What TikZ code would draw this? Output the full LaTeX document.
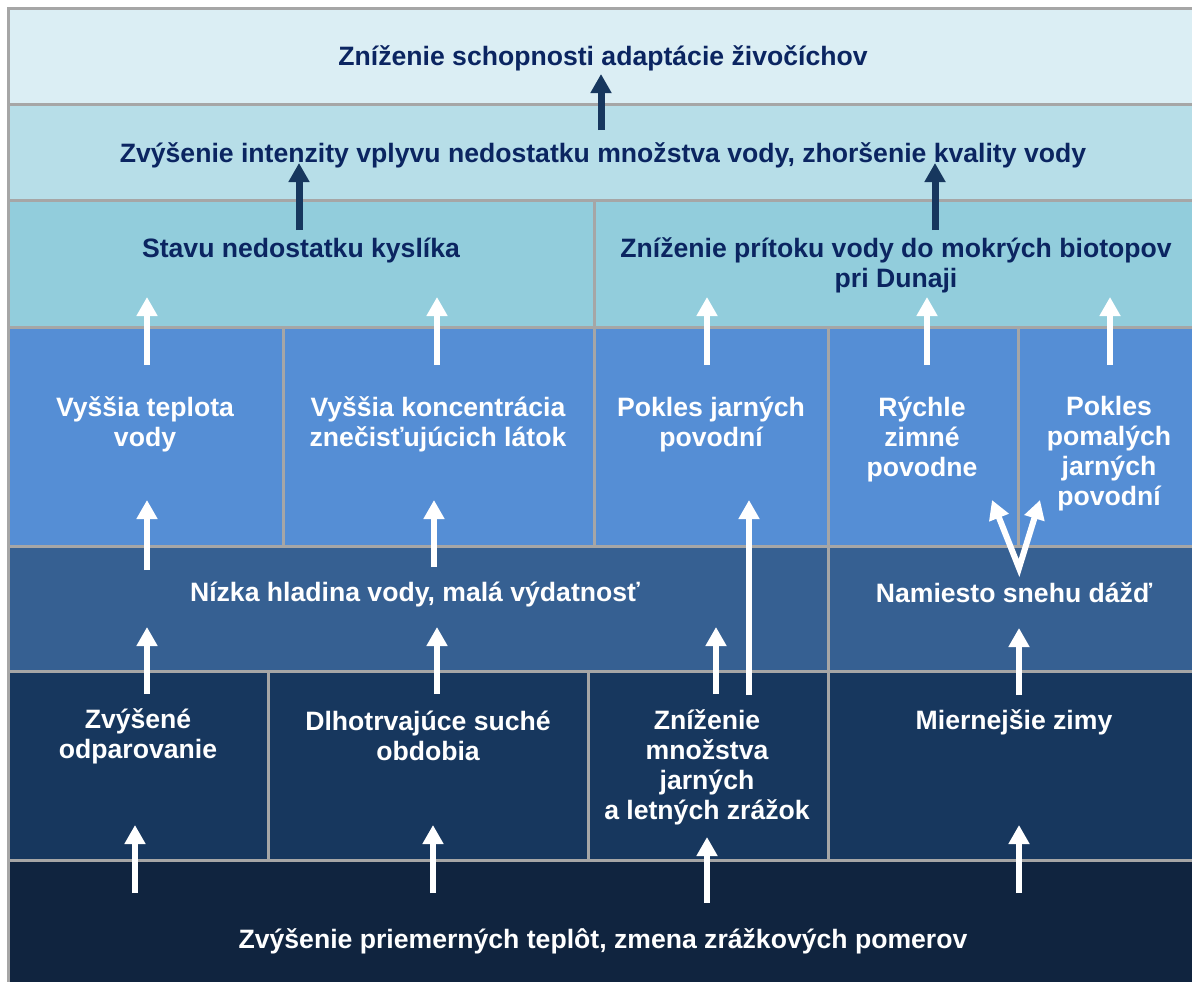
\documentclass[tikz,border=0pt]{standalone}
\usepackage{fontspec}
\setmainfont{Liberation Sans}
\usetikzlibrary{arrows.meta}
\definecolor{framec}{HTML}{A6A6A6}
\definecolor{lvla}{HTML}{DBEEF4}
\definecolor{lvlb}{HTML}{B7DEE8}
\definecolor{lvlc}{HTML}{92CDDC}
\definecolor{lvld}{HTML}{558ED5}
\definecolor{lvle}{HTML}{366092}
\definecolor{lvlf}{HTML}{17375E}
\definecolor{lvlg}{HTML}{10243F}
\definecolor{textc}{HTML}{0B2561}
\definecolor{arrowc}{HTML}{17375E}

\begin{document}
\begin{tikzpicture}[x=0.5pt,y=-0.5pt,
  cell/.style={draw=framec, line width=1.5pt},
  lbl/.style={font=\fontsize{13.3}{15}\selectfont\bfseries, align=center, inner sep=0pt},
  dlbl/.style={lbl, text=textc},
  wlbl/.style={lbl, text=white},
  tipw/.tip={Triangle[width=10pt,length=9.5pt]},
  warrow/.style={draw=white, line width=3pt, -tipw},
  darrow/.style={draw=arrowc, line width=3.5pt, -tipw}]
  \fill[white] (0,0) rectangle (1192,981);
  \useasboundingbox (0,0) rectangle (1192,981);
  % levels, top to bottom
  \path[cell, fill=lvla] (8,8) rectangle (1200,104);
  \path[cell, fill=lvlb] (8,104) rectangle (1200,200);
  \path[cell, fill=lvlc] (8,200) rectangle (594,327);
  \path[cell, fill=lvlc] (594,200) rectangle (1200,327);
  \path[cell, fill=lvld] (8,327) rectangle (283,546);
  \path[cell, fill=lvld] (283,327) rectangle (594,546);
  \path[cell, fill=lvld] (594,327) rectangle (828,546);
  \path[cell, fill=lvld] (828,327) rectangle (1018,546);
  \path[cell, fill=lvld] (1018,327) rectangle (1200,546);
  \path[cell, fill=lvle] (8,546) rectangle (828,671);
  \path[cell, fill=lvle] (828,546) rectangle (1200,671);
  \path[cell, fill=lvlf] (8,671) rectangle (268,860);
  \path[cell, fill=lvlf] (268,671) rectangle (588,860);
  \path[cell, fill=lvlf] (588,671) rectangle (828,860);
  \path[cell, fill=lvlf] (828,671) rectangle (1200,860);
  \path[cell, fill=lvlg] (8,860) rectangle (1200,990);
  % labels
  \node[dlbl] (adapt) at (603,58) {Zníženie schopnosti adaptácie živočíchov};
  \node[dlbl] (intens) at (603,155) {Zvýšenie intenzity vplyvu nedostatku množstva vody, zhoršenie kvality vody};
  \node[dlbl] (kyslik) at (301,250) {Stavu nedostatku kyslíka};
  \node[dlbl] (pritok) at (896,265) {Zníženie prítoku vody do mokrých biotopov\\pri Dunaji};
  \node[wlbl] (teplota) at (145,424) {Vyššia teplota\\vody};
  \node[wlbl] (konc) at (438,424) {Vyššia koncentrácia\\znečisťujúcich látok};
  \node[wlbl] (jarne) at (711,424) {Pokles jarných\\povodní};
  \node[wlbl] (zimne) at (922,439) {Rýchle\\zimné\\povodne};
  \node[wlbl] (pomale) at (1109,454) {Pokles\\pomalých\\jarných\\povodní};
  \node[wlbl] (hladina) at (415,594) {Nízka hladina vody, malá výdatnosť};
  \node[wlbl] (dazd) at (1014,593) {Namiesto snehu dážď};
  \node[wlbl] (odpar) at (138,736) {Zvýšené\\odparovanie};
  \node[wlbl] (sucho) at (428,736) {Dlhotrvajúce suché\\obdobia};
  \node[wlbl] (zrazky) at (707,767) {Zníženie\\množstva\\jarných\\a letných zrážok};
  \node[wlbl] (zimy) at (1014,722) {Miernejšie zimy};
  \node[wlbl] (teploty) at (603,941) {Zvýšenie priemerných teplôt, zmena zrážkových pomerov};
  % dark arrows in the upper levels
  \foreach \x/\ya/\yb [count=\i] in {601/130/74, 299/230/163, 935/230/163}{
    \coordinate (da\i) at (\x,\ya);
    \coordinate (db\i) at (\x,\yb);
    \draw[darrow] (da\i) -- (db\i);
  }
  % white arrows
  \foreach \x/\ya/\yb [count=\i] in {147/365/297, 437/365/297, 707/365/297, 927/365/297, 1110/365/297,
      147/570/500, 434/567/500,
      147/694/627, 437/694/627, 716/694/627, 749/695/500, 1019/695/628,
      135/893/825, 433/893/825, 707/903/837, 1019/893/825}{
    \coordinate (wa\i) at (\x,\ya);
    \coordinate (wb\i) at (\x,\yb);
    \draw[warrow] (wa\i) -- (wb\i);
  }
  % split arrow from the rain cell
  \coordinate (vsplit) at (1019,568);
  \coordinate (vleft) at (992,500);
  \coordinate (vright) at (1040,500);
  \draw[draw=white, line width=3pt, line join=miter, tipw-tipw] (vleft) -- (vsplit) -- (vright);
\end{tikzpicture}
\end{document}
